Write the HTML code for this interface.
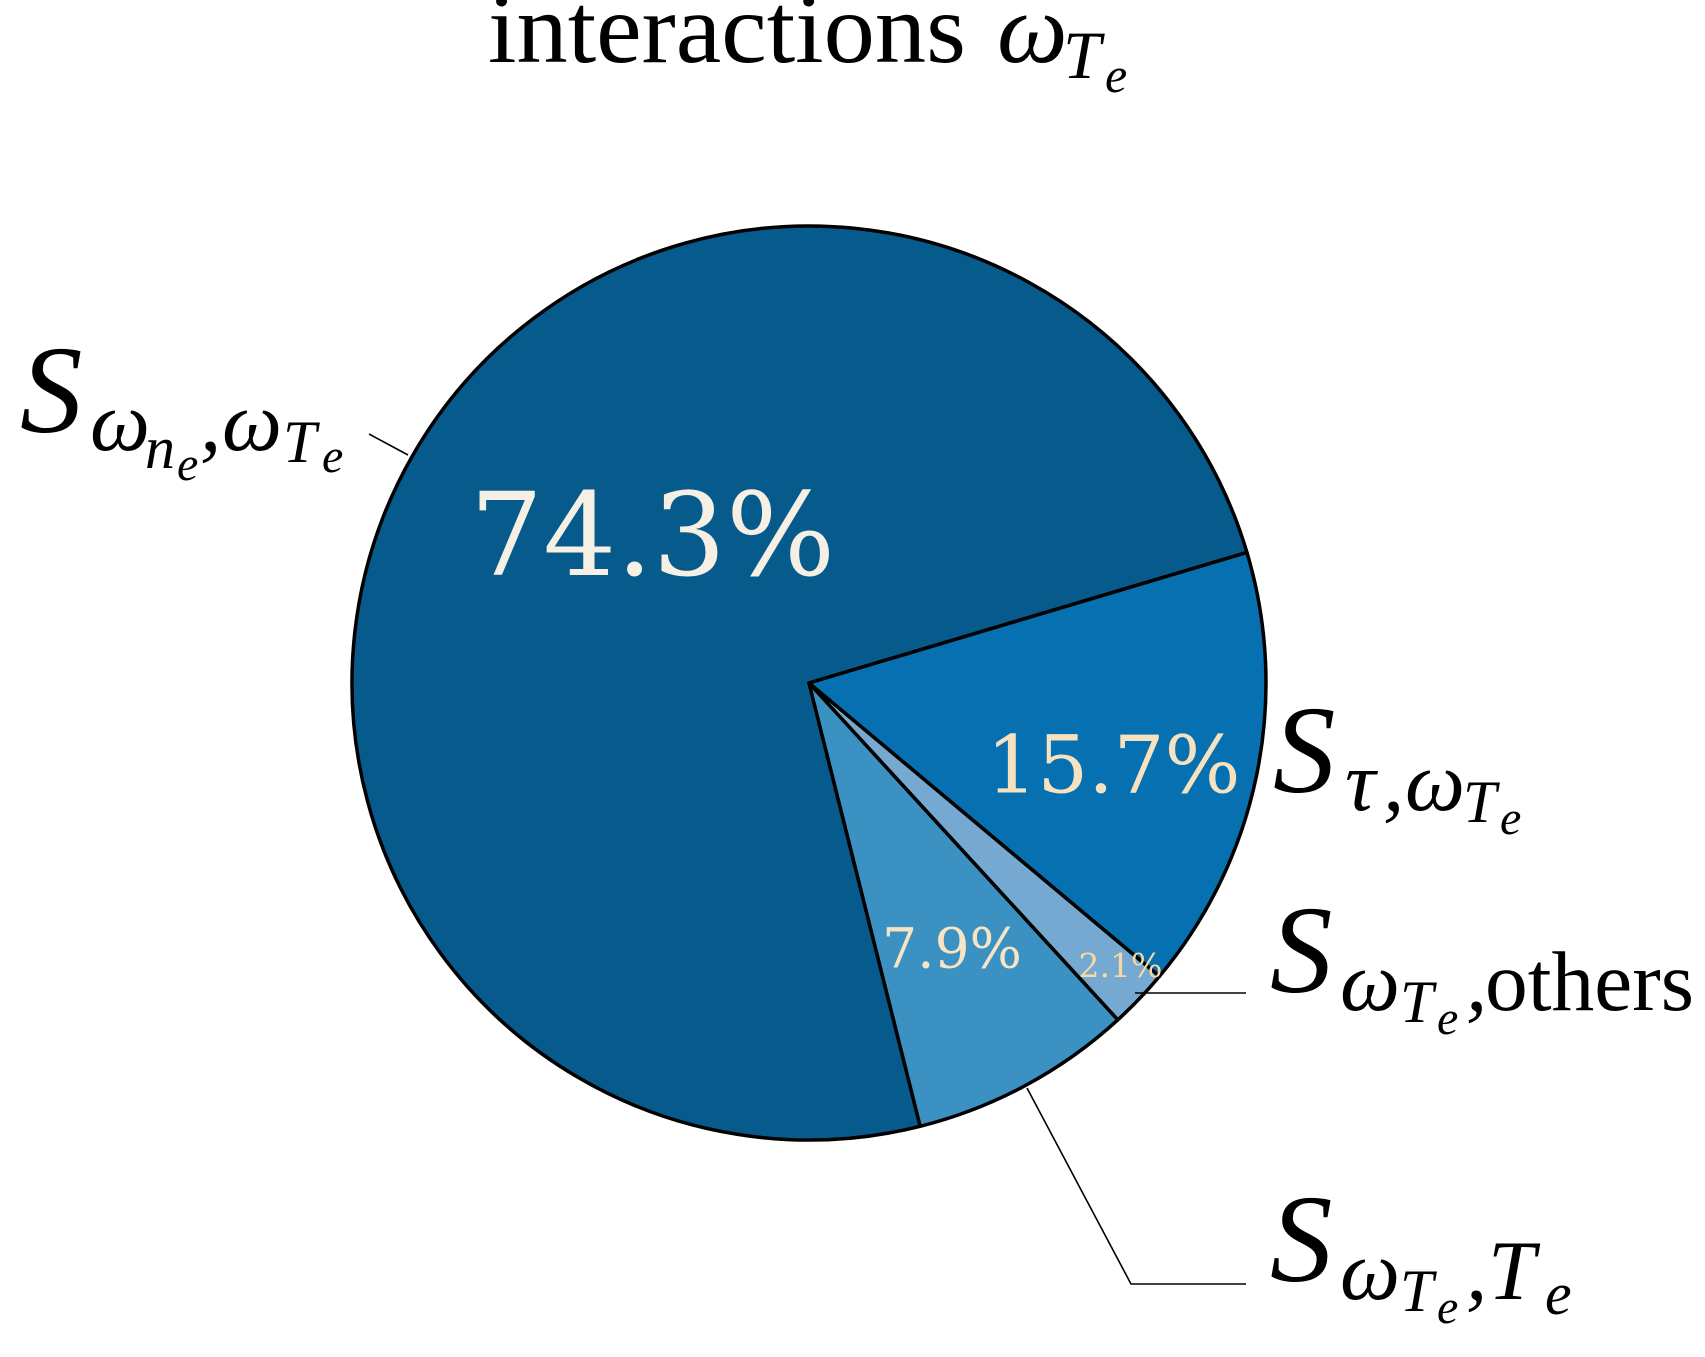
<!DOCTYPE html>
<html><head><meta charset="utf-8"><style>
html,body{margin:0;padding:0;background:#fff;}
svg{display:block;}
.m{font-family:"Liberation Serif",serif;font-style:italic;fill:#000;}
.r{font-family:"Liberation Serif",serif;fill:#000;}
.p{font-family:"DejaVu Serif","Liberation Serif",serif;}
</style></head><body>
<svg id="chart" width="1705" height="1357" viewBox="0 0 1705 1357">
<g>
<text class="r" x="488" y="62" font-size="100" textLength="478" lengthAdjust="spacingAndGlyphs">interactions</text>
<text class="m" x="997" y="62" font-size="100">ω</text>
<text class="m" x="1063" y="78" font-size="68">T</text>
<text class="m" x="1105" y="92" font-size="50">e</text>
</g>
<g id="slices"></g>
<g id="pcts"></g>
<g stroke="#000" fill="none" stroke-width="1.6">
<polyline points="369,434 408,455"/>
<polyline points="1135,993 1246,993"/>
<polyline points="1027,1088 1131,1284 1246,1284"/>
</g>
<g>
<text class="m" x="20" y="432" font-size="125">S</text>
<text class="m" x="90" y="450" font-size="85">ω</text>
<text class="m" x="145" y="468" font-size="60">n</text>
<text class="m" x="177" y="480" font-size="48">e</text>
<text class="m" x="200" y="450" font-size="85">,</text>
<text class="m" x="222" y="450" font-size="85">ω</text>
<text class="m" x="283" y="462" font-size="60">T</text>
<text class="m" x="322" y="472" font-size="48">e</text>
</g>
<g>
<text class="m" x="1273" y="792" font-size="125">S</text>
<text class="m" x="1345" y="810" font-size="85">τ</text>
<text class="m" x="1383" y="810" font-size="85">,</text>
<text class="m" x="1405" y="810" font-size="85">ω</text>
<text class="m" x="1463" y="822" font-size="60">T</text>
<text class="m" x="1500" y="834" font-size="48">e</text>
</g>
<g>
<text class="m" x="1270" y="992" font-size="125">S</text>
<text class="m" x="1340" y="1010" font-size="85">ω</text>
<text class="m" x="1400" y="1022" font-size="60">T</text>
<text class="m" x="1437" y="1034" font-size="48">e</text>
<text class="m" x="1466" y="1010" font-size="85">,</text>
<text class="r" x="1485" y="1010" font-size="85" textLength="209" lengthAdjust="spacingAndGlyphs">others</text>
</g>
<g>
<text class="m" x="1270" y="1281" font-size="125">S</text>
<text class="m" x="1340" y="1299" font-size="85">ω</text>
<text class="m" x="1400" y="1311" font-size="60">T</text>
<text class="m" x="1437" y="1323" font-size="48">e</text>
<text class="m" x="1466" y="1299" font-size="85">,</text>
<text class="m" x="1488" y="1299" font-size="85">T</text>
<text class="m" x="1545" y="1314" font-size="60">e</text>
</g>
</svg>
<script>
const categories = ["S_wne_wTe", "S_wTe_Te", "S_wTe_others", "S_tau_wTe"];
const shares = [74.3, 7.9, 2.1, 15.7];
const pctLabels = ["74.3%", "7.9%", "2.1%", "15.7%"];
const colors = ["#065a8c", "#3a91c2", "#76a9d1", "#0770b0"];
const textColors = ["#f6f0e4", "#f7e4c4", "#f7d8a4", "#f7e2c0"];
const fontSizes = [115, 55, 33, 80];
// label placement: angle offset from slice mid-angle (deg) and radius fraction
const labelAngleOffset = [-13.6, 0, 1.5, -3.4];
const labelRadiusFrac = [0.47, 0.66, 0.92, 0.69];
const startAngle = 16.6;
const cx = 809, cy = 683, R = 457;
const ns = "http://www.w3.org/2000/svg";
const gS = document.getElementById('slices'), gP = document.getElementById('pcts');
const total = shares.reduce((a,b)=>a+b,0);
function pt(deg, r){const a=deg*Math.PI/180;return [cx+r*Math.cos(a), cy-r*Math.sin(a)];}
let a0 = startAngle;
shares.forEach((v,i)=>{
  const sweep = v/total*360, a1 = a0+sweep;
  const p0=pt(a0,R), p1=pt(a1,R);
  const path=document.createElementNS(ns,'path');
  path.setAttribute('d',`M${cx},${cy} L${p0[0]},${p0[1]} A${R},${R} 0 ${sweep>180?1:0} 0 ${p1[0]},${p1[1]} Z`);
  path.setAttribute('fill',colors[i]);
  path.setAttribute('stroke','#000');
  path.setAttribute('stroke-width','3.5');
  path.setAttribute('stroke-linejoin','round');
  
  
  gS.appendChild(path);
  const mid=(a0+a1)/2+labelAngleOffset[i], lp=pt(mid,R*labelRadiusFrac[i]);
  const t=document.createElementNS(ns,'text');
  t.setAttribute('class','p');
  t.setAttribute('fill',textColors[i]);
  t.setAttribute('x',lp[0]);t.setAttribute('y',lp[1]);
  t.setAttribute('font-size',fontSizes[i]);
  t.setAttribute('text-anchor','middle');
  t.setAttribute('dominant-baseline','central');
  t.textContent=pctLabels[i];
  
  
  gP.appendChild(t);
  a0=a1;
});
</script>
</body></html>
